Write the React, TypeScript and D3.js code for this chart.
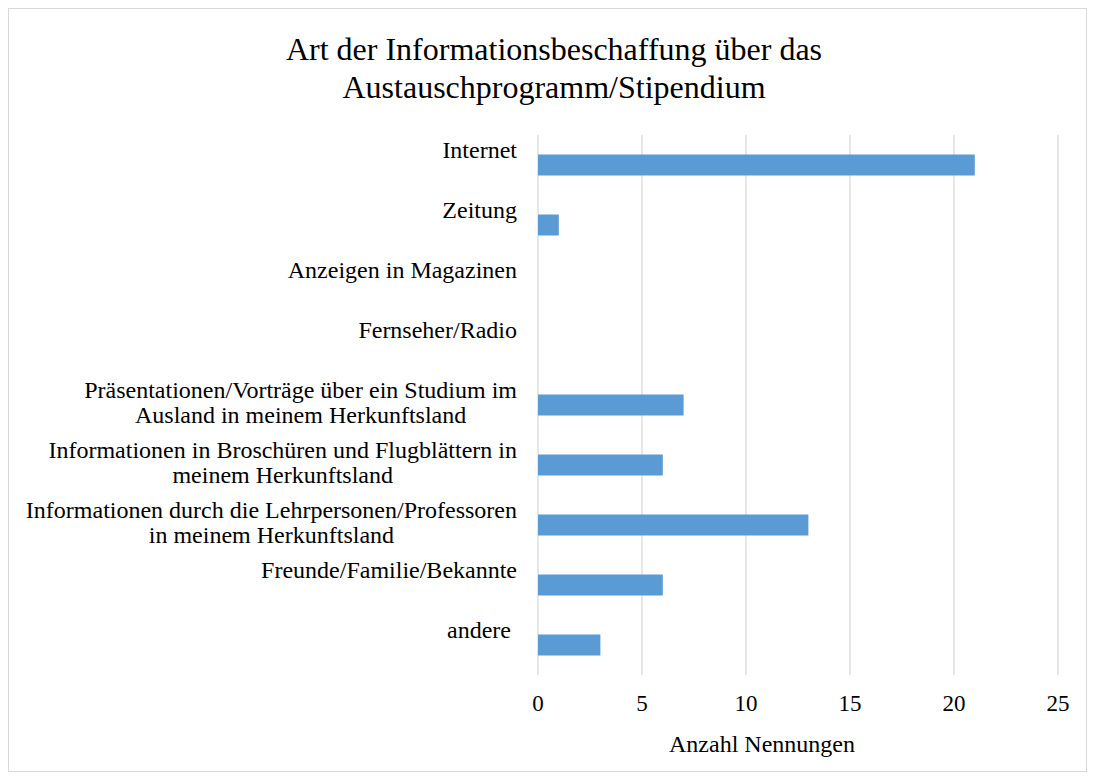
import React, { useRef, useEffect } from "react";
import * as d3 from "d3";

const categories = [
  "Internet",
  "Zeitung",
  "Anzeigen in Magazinen",
  "Fernseher/Radio",
  "Präsentationen/Vorträge über ein Studium im|Ausland in meinem Herkunftsland",
  "Informationen in Broschüren und Flugblättern in|meinem Herkunftsland",
  "Informationen durch die Lehrpersonen/Professoren|in meinem Herkunftsland",
  "Freunde/Familie/Bekannte",
  "andere ",
];
const counts = [21, 1, 0, 0, 7, 6, 13, 6, 3];
const ticks = [0, 5, 10, 15, 20, 25];
const titleLines = ["Art der Informationsbeschaffung über das", "Austauschprogramm/Stipendium"];
const axisTitle = "Anzahl Nennungen";

const App = () => {
  const svgRef = useRef<SVGSVGElement>(null);

  useEffect(() => {
    const w = 1094;
    const h = 780;
    const font = "'Liberation Serif', 'Times New Roman', serif";
    const svg = d3.select(svgRef.current).attr("width", w).attr("height", h);
    svg.selectAll("*").remove();

    // border
    svg
      .append("rect")
      .attr("x", 8.5)
      .attr("y", 8.5)
      .attr("width", 1078)
      .attr("height", 763)
      .attr("fill", "#fff")
      .attr("stroke", "#d9d9d9");

    // scales
    const x = d3.scaleLinear().domain([0, 25]).range([538, 1058]);
    const y = d3
      .scaleBand()
      .domain(categories)
      .range([135, 675])
      .paddingInner(0.65)
      .paddingOuter(0.325);

    // title
    svg
      .append("g")
      .selectAll("text")
      .data(titleLines)
      .join("text")
      .attr("x", 554)
      .attr("y", (d, i) => 60 + i * 38)
      .attr("text-anchor", "middle")
      .attr("font-family", font)
      .attr("font-size", 32)
      .attr("fill", "#000")
      .text((d) => d);

    // gridlines
    svg
      .append("g")
      .selectAll("line")
      .data(ticks)
      .join("line")
      .attr("x1", (d) => x(d))
      .attr("x2", (d) => x(d))
      .attr("y1", 135)
      .attr("y2", 675)
      .attr("stroke", "#d9d9d9")
      .attr("stroke-width", 1.3);

    // bars
    svg
      .append("g")
      .selectAll("rect")
      .data(counts)
      .join("rect")
      .attr("x", x(0))
      .attr("y", (d, i) => y(categories[i]))
      .attr("width", (d) => x(d) - x(0))
      .attr("height", y.bandwidth())
      .attr("fill", "#5b9bd5");

    // category labels (right edge at 517, extra lines centered)
    const labelG = svg.append("g");
    categories.forEach((c) => {
      const lines = c.split("|");
      const center = y(c) + y.bandwidth() / 2;
      const g = labelG.append("g");
      const texts = g
        .selectAll("text")
        .data(lines)
        .join("text")
        .attr("y", (d, i) => center - 7 + i * 25)
        .attr("text-anchor", "middle")
        .attr("font-family", font)
        .attr("font-size", 24)
        .attr("fill", "#000")
        .style("white-space", "pre")
        .text((d) => d);
      let maxW = 0;
      texts.each(function () {
        maxW = Math.max(maxW, (this as SVGTextElement).getComputedTextLength());
      });
      texts.attr("x", 517 - maxW / 2);
    });

    // tick labels
    svg
      .append("g")
      .selectAll("text")
      .data(ticks)
      .join("text")
      .attr("x", (d) => x(d))
      .attr("y", 711)
      .attr("text-anchor", "middle")
      .attr("font-family", font)
      .attr("font-size", 23)
      .attr("fill", "#000")
      .text((d) => d);

    // axis title
    svg
      .append("text")
      .attr("x", (x(0) + x(25)) / 2 - 36)
      .attr("y", 752)
      .attr("text-anchor", "middle")
      .attr("font-family", font)
      .attr("font-size", 24)
      .attr("fill", "#000")
      .text(axisTitle);
  }, []);

  return <svg ref={svgRef} style={{ position: "absolute", left: 0, top: 0 }}></svg>;
};

export default App;
